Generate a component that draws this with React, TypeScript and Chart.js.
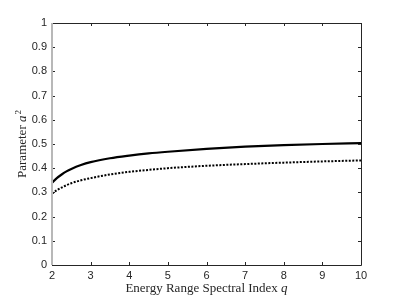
import React, { useEffect, useRef } from "react";
import { Chart, registerables } from "chart.js";

Chart.register(...registerables);

const qValues = [2, 2.125, 2.25, 2.375, 2.5, 2.75, 3, 3.5, 4, 4.5, 5, 6, 7, 8, 9, 10];
const solidSeries = [0.340, 0.359, 0.374, 0.387, 0.397, 0.413, 0.425, 0.441, 0.452, 0.461, 0.468, 0.480, 0.489, 0.495, 0.500, 0.504];
const dottedSeries = [0.295, 0.309, 0.320, 0.330, 0.338, 0.350, 0.359, 0.374, 0.385, 0.393, 0.400, 0.410, 0.417, 0.423, 0.428, 0.432];
const xTicks = [2, 3, 4, 5, 6, 7, 8, 9, 10];
const yTicks = [0, 0.1, 0.2, 0.3, 0.4, 0.5, 0.6, 0.7, 0.8, 0.9, 1];

const AXIS = "#262626";
const SERIF = "'Liberation Serif', 'DejaVu Serif', serif";
const SANS = "'Liberation Sans', Arial, sans-serif";

const framePlugin = {
  id: "frame",
  afterDraw(chart: any) {
    const { ctx, chartArea } = chart;
    const { left, right, top, bottom } = chartArea;
    const xs = chart.scales.x;
    const ys = chart.scales.y;
    ctx.save();
    ctx.strokeStyle = AXIS;
    ctx.lineWidth = 1;
    ctx.beginPath();
    ctx.moveTo(left, top + 0.5);
    ctx.lineTo(right + 0.5, top + 0.5);
    ctx.lineTo(right + 0.5, bottom + 0.5);
    ctx.lineTo(left, bottom + 0.5);
    ctx.stroke();
    const tl = 3;
    ctx.beginPath();
    xTicks.forEach((v) => {
      const px = Math.round(xs.getPixelForValue(v)) + 0.5;
      ctx.moveTo(px, bottom);
      ctx.lineTo(px, bottom - tl);
      ctx.moveTo(px, top);
      ctx.lineTo(px, top + tl);
    });
    yTicks.forEach((v) => {
      const py = Math.round(ys.getPixelForValue(v)) + 0.5;
      ctx.moveTo(left, py);
      ctx.lineTo(left + tl, py);
      ctx.moveTo(right, py);
      ctx.lineTo(right - tl, py);
    });
    ctx.stroke();
    ctx.strokeStyle = "#b8b8b8";
    ctx.lineWidth = 2;
    ctx.beginPath();
    ctx.moveTo(left, top);
    ctx.lineTo(left, bottom);
    ctx.stroke();

    ctx.fillStyle = AXIS;
    ctx.textBaseline = "alphabetic";
    const fs = 13;
    const normal = `${fs}px ${SERIF}`;
    const italic = `italic ${fs}px ${SERIF}`;
    const xt1 = "Energy Range Spectral Index ";
    const xt2 = "q";
    ctx.font = normal;
    const w1 = ctx.measureText(xt1).width;
    ctx.font = italic;
    const w2 = ctx.measureText(xt2).width;
    const cx = (left + right) / 2;
    const sx = cx - (w1 + w2) / 2;
    const by = 292;
    ctx.font = normal;
    ctx.fillText(xt1, sx, by);
    ctx.font = italic;
    ctx.fillText(xt2, sx + w1, by);

    const yt1 = "Parameter ";
    const yt2 = "a";
    const yt3 = "2";
    const supFont = `${Math.round(fs * 0.7)}px ${SERIF}`;
    ctx.font = normal;
    const v1 = ctx.measureText(yt1).width;
    ctx.font = italic;
    const v2 = ctx.measureText(yt2).width;
    ctx.font = supFont;
    const v3 = ctx.measureText(yt3).width;
    const total = v1 + v2 + v3 + 1;
    ctx.translate(26, (top + bottom) / 2);
    ctx.rotate(-Math.PI / 2);
    const s = -total / 2;
    ctx.font = normal;
    ctx.fillText(yt1, s, 0);
    ctx.font = italic;
    ctx.fillText(yt2, s + v1, 0);
    ctx.font = supFont;
    ctx.fillText(yt3, s + v1 + v2 + 1, -5);
    ctx.restore();
  },
};

export default function App() {
  const ref = useRef<HTMLCanvasElement>(null);
  useEffect(() => {
    if (!ref.current) return;
    const chart = new Chart(ref.current, {
      type: "line",
      data: {
        datasets: [
          {
            data: qValues.map((q, i) => ({ x: q, y: solidSeries[i] })),
            borderColor: "#000000",
            borderWidth: 2.2,
            pointRadius: 0,
            cubicInterpolationMode: "monotone",
            fill: false,
          },
          {
            data: qValues.map((q, i) => ({ x: q, y: dottedSeries[i] })),
            borderColor: "#000000",
            borderWidth: 2,
            borderDash: [2, 1.5],
            pointRadius: 0,
            cubicInterpolationMode: "monotone",
            fill: false,
          },
        ],
      },
      options: {
        animation: false,
        responsive: false,
        devicePixelRatio: 1,
        layout: { padding: { top: 23, right: 38, left: 0, bottom: 0 } },
        plugins: { legend: { display: false }, tooltip: { enabled: false } },
        scales: {
          x: {
            type: "linear",
            min: 2,
            max: 10,
            afterBuildTicks: (s: any) => {
              s.ticks = xTicks.map((v) => ({ value: v }));
            },
            ticks: {
              color: AXIS,
              font: { family: SANS, size: 11 },
              padding: 4,
              maxRotation: 0,
              autoSkip: false,
            },
            grid: { display: false, drawTicks: false },
            border: { display: false },
            afterFit: (s: any) => {
              s.height = 34;
            },
          },
          y: {
            type: "linear",
            min: 0,
            max: 1,
            afterBuildTicks: (s: any) => {
              s.ticks = yTicks.map((v) => ({ value: v }));
            },
            ticks: {
              color: AXIS,
              font: { family: SANS, size: 11 },
              padding: 5,
              autoSkip: false,
              callback: (v: any) => String(Math.round(Number(v) * 10) / 10),
            },
            grid: { display: false, drawTicks: false },
            border: { display: false },
            afterFit: (s: any) => {
              s.width = 52;
            },
          },
        },
      },
      plugins: [framePlugin],
    });
    return () => chart.destroy();
  }, []);
  return (
    <div style={{ position: "fixed", left: 0, top: 0, width: 399, height: 299, background: "#fff" }}>
      <canvas ref={ref} width={399} height={299} style={{ width: 399, height: 299 }} />
    </div>
  );
}
